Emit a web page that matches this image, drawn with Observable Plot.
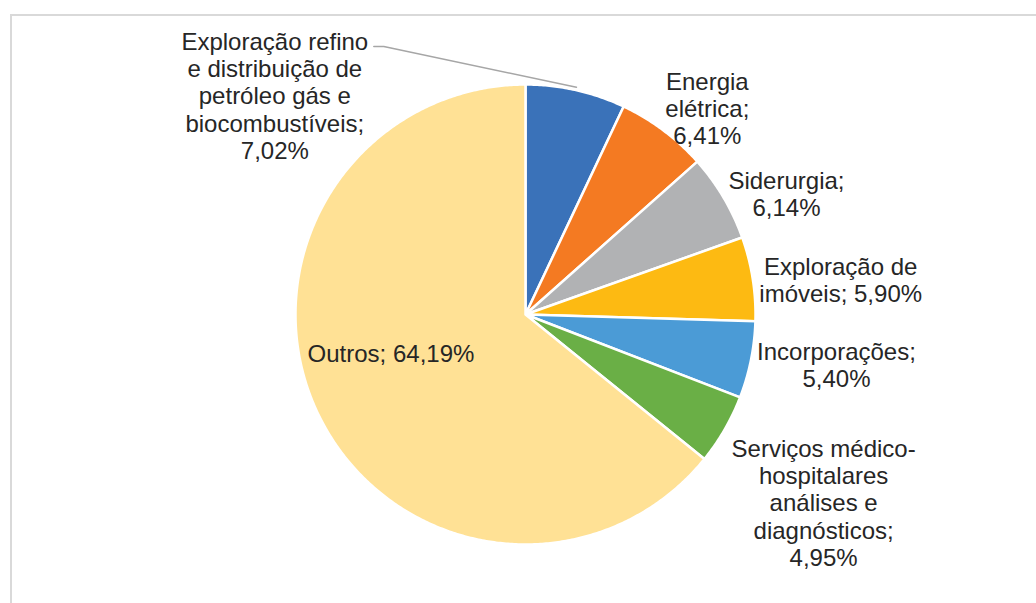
<!DOCTYPE html>
<html>
<head>
<meta charset="utf-8">
<script src="https://cdn.jsdelivr.net/npm/d3@7"></script>
<script src="https://cdn.jsdelivr.net/npm/@observablehq/plot@0.6"></script>
<style>
  html, body { margin: 0; padding: 0; background: #fff; }
  #wrap { position: relative; width: 1036px; height: 603px; overflow: hidden; }
  #frame { position: absolute; left: 10px; top: 14px; width: 1040px; height: 600px;
           border-top: 2px solid #D9D9D9; border-left: 2px solid #D9D9D9; box-sizing: border-box; }
  #chart { position: absolute; left: 0; top: 0; }
</style>
</head>
<body>
<div id="wrap"><div id="frame"></div><div id="chart"></div></div>
<script>
// ---- data ----
const categories = [
  "Exploração refino\ne distribuição de\npetróleo gás e\nbiocombustíveis",
  "Energia\nelétrica",
  "Siderurgia",
  "Exploração de\nimóveis",
  "Incorporações",
  "Serviços médico-\nhospitalares\nanálises e\ndiagnósticos",
  "Outros"
];
const values = [7.02, 6.41, 6.14, 5.90, 5.40, 4.95, 64.19];
const valueLabels = ["7,02%", "6,41%", "6,14%", "5,90%", "5,40%", "4,95%", "64,19%"];
// separator between category and value in each label (Excel line breaks)
const joiners = [";\n", ";\n", ";\n", "; ", ";\n", ";\n", "; "];
const colors = ["#3A72B9", "#F47A22", "#B1B2B4", "#FDBA12", "#4B9BD6", "#6AAF46", "#FFE195"];

// ---- layout ----
const W = 1036, H = 603;
const cx = 525, cy = 314, R = 230;
// label offsets from the slice's outer mid-point
const labelOffset = [[-301, 5.5], [44, -22], [63, -4], [88, 1], [85.5, 4.5], [99, 73], [73, -60]];

// ---- geometry from data ----
const pie = d3.pie().sort(null).value(d => d)(values);
const polar = (a, r) => [cx + r * Math.sin(a), cy - r * Math.cos(a)];

const slicePts = [];
pie.forEach((p, i) => {
  const n = Math.max(4, Math.ceil((p.endAngle - p.startAngle) / (Math.PI / 360)));
  slicePts.push({cat: categories[i], x: cx, y: cy});
  for (let k = 0; k <= n; k++) {
    const a = p.startAngle + (p.endAngle - p.startAngle) * k / n;
    const [x, y] = polar(a, R);
    slicePts.push({cat: categories[i], x, y});
  }
});

const labels = pie.map((p, i) => {
  const mid = (p.startAngle + p.endAngle) / 2;
  const [ex, ey] = polar(mid, R);
  return {x: ex + labelOffset[i][0], y: ey + labelOffset[i][1],
          text: categories[i] + joiners[i] + valueLabels[i]};
});

// leader line for first slice
const mid0 = (pie[0].startAngle + pie[0].endAngle) / 2;
const [lx, ly] = polar(mid0, R + 3);
const leader = [
  {x: labels[0].x + 99, y: labels[0].y - 49},
  {x: labels[0].x + 109, y: labels[0].y - 49},
  {x: lx, y: ly}
];

const chart = Plot.plot({
  width: W, height: H,
  margin: 0,
  x: {domain: [0, W], range: [0, W], axis: null},
  y: {domain: [0, H], range: [0, H], axis: null},
  color: {domain: categories, range: colors},
  style: {background: "transparent"},
  marks: [
    Plot.line(slicePts, {x: "x", y: "y", z: "cat", fill: "cat", stroke: "#fff",
      strokeWidth: 2.5, strokeLinejoin: "round", curve: "linear-closed"}),
    Plot.line(leader, {x: "x", y: "y", stroke: "#A6A6A6", strokeWidth: 1.5}),
    Plot.text(labels, {x: "x", y: "y", text: "text", fontSize: 24, lineHeight: 1.135,
      fontFamily: "Liberation Sans, Arial, sans-serif", fill: "#262626", textAnchor: "middle"})
  ]
});
document.getElementById("chart").appendChild(chart);
</script>
</body>
</html>
